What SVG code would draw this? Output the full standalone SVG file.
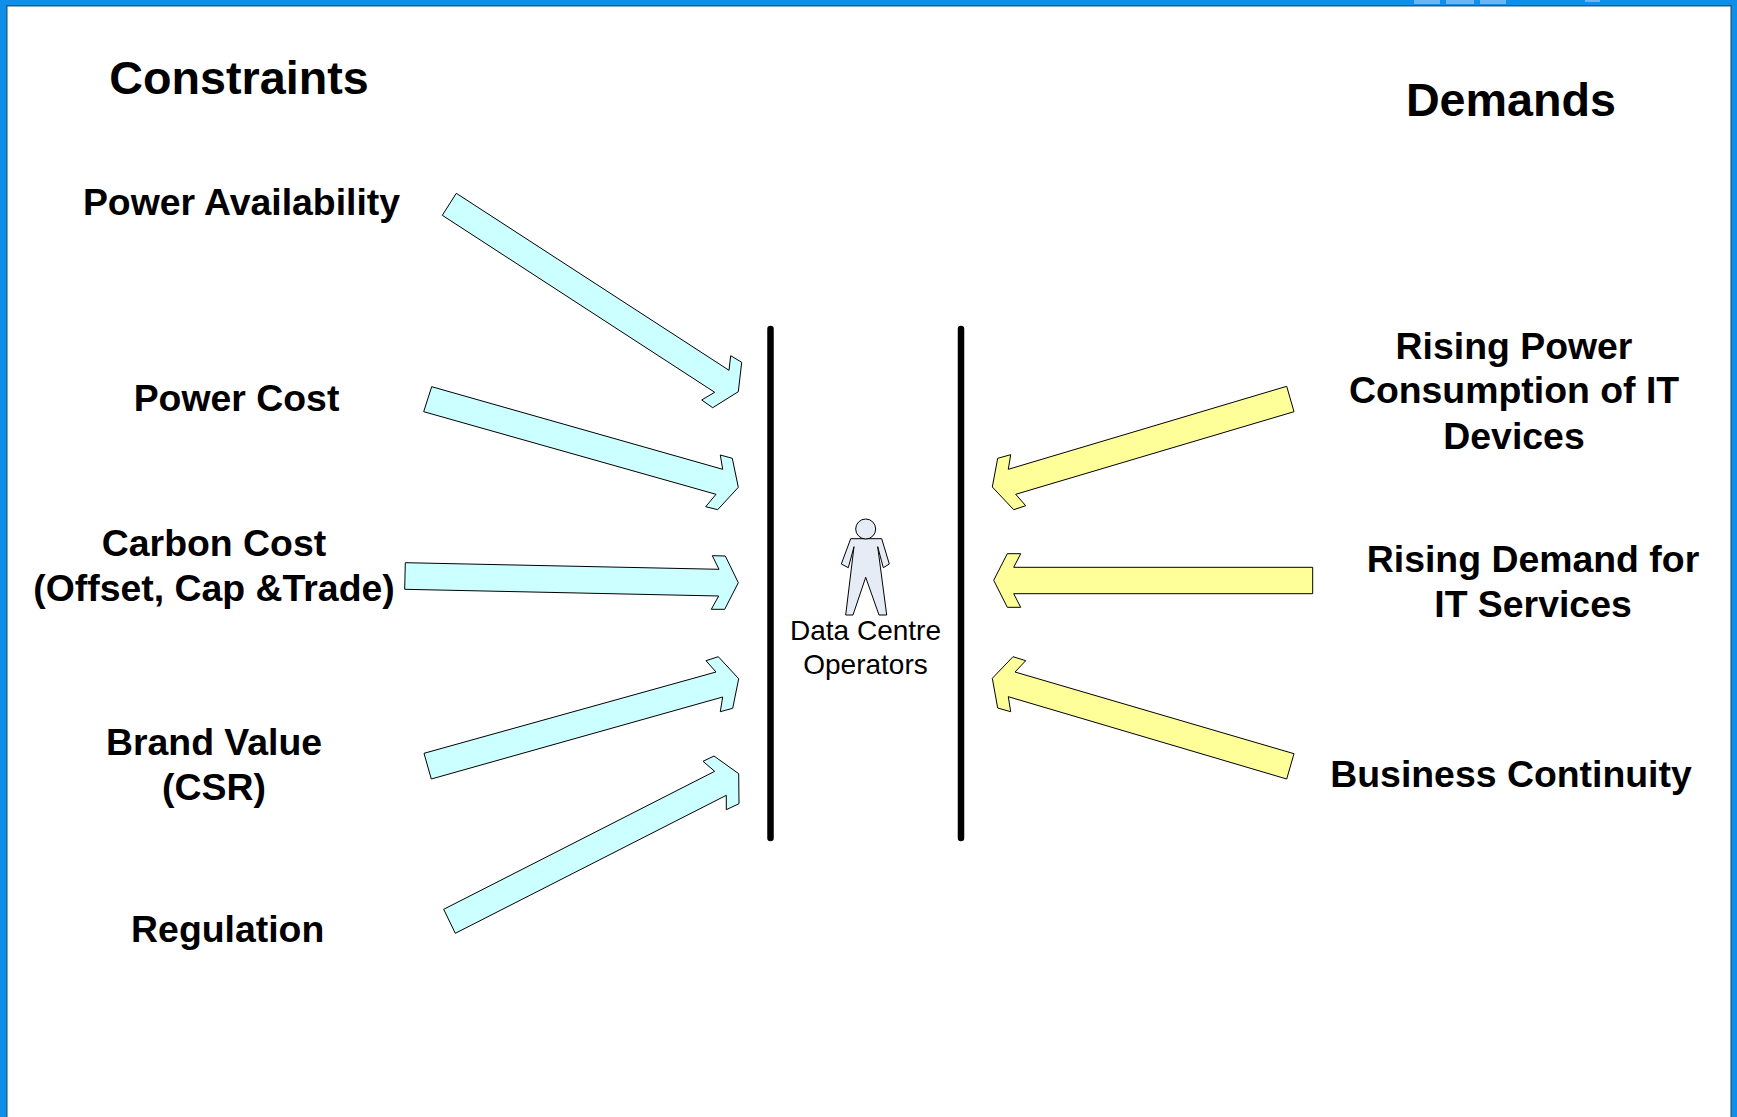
<svg xmlns="http://www.w3.org/2000/svg" width="1737" height="1117" viewBox="0 0 1737 1117">
<style>
text{font-family:"Liberation Sans",Arial,sans-serif;fill:#000;text-anchor:middle}
.h{font-size:46.7px;font-weight:700}
.l{font-size:37.4px;font-weight:700}
.s{font-size:28px}
.c{fill:#CCFFFF;stroke:#000;stroke-width:1;stroke-linejoin:miter}
.y{fill:#FFFF99;stroke:#000;stroke-width:1;stroke-linejoin:miter}
.b{stroke:#000;stroke-width:6.5;stroke-linecap:round;fill:none}
.p{fill:#E6ECF6;stroke:#000;stroke-width:1}
.f{fill:#0F8FE8}
.e{stroke:#1A5F8F;stroke-width:1.5;fill:none}
.t{fill:#6DB6F2}
</style>
<rect width="1737" height="1117" fill="#fff"/>
<g id="frame">
<rect class="f" x="0" y="0" width="1737" height="5"/>
<rect class="f" x="0" y="0" width="6" height="1117"/>
<rect class="f" x="1732" y="0" width="5" height="1117"/>
<rect class="t" x="1414" y="0" width="26" height="4"/>
<rect class="t" x="1446" y="0" width="28" height="4"/>
<rect class="t" x="1480" y="0" width="26" height="4"/>
<rect class="t" x="1585" y="0" width="15" height="2"/>
<path class="e" d="M6.8 1117V5.8H1731.2V1117"/>
</g>
<g id="connectors">
<polygon class="c" points="456.3,193.3 442.3,215.3 714.7,392.3 701.7,400 712.7,407.7 738.3,391.7 741.7,362.3 730.7,355.7 729,370.3"/>
<polygon class="c" points="431.7,386.7 423.7,411.7 716,494.3 705.7,506.7 717.7,509.7 738.3,487.3 732.3,458.3 720.3,455 722.7,469.3"/>
<polygon class="c" points="405.3,562.7 404.7,589.3 718.7,596 711.3,609.3 724.7,609.3 738.3,582.7 725.3,556 712.3,555.7 719,569.3"/>
<polygon class="c" points="424,753.3 431.3,779 722.7,697 720.3,711.7 732.7,708.3 738.7,678.7 718.3,656.7 706,660.7 716,672"/>
<polygon class="c" points="443.7,909.3 455.3,933.3 726.3,795.3 726.3,809.7 739,803.7 738.7,773.7 714,756 703,761.3 714.7,771.3"/>
<polygon class="y" points="1286.7,386.3 1294,411.7 1015.7,494.3 1025.7,505.7 1013.7,509.7 992.3,487 997.7,458.3 1010.7,454.7 1008.3,469.3"/>
<polygon class="y" points="1312.7,567.3 1312.7,593.7 1013.7,593.7 1020.7,607.3 1007.3,607.3 993.7,580.3 1007.3,553.7 1020.7,553.7 1013.7,567.3"/>
<polygon class="y" points="1294,753.7 1286.7,779 1008.3,696.7 1010.7,711.7 997.7,708 992.3,678.3 1013,656.7 1025.7,660.7 1015,672"/>
</g>
<g id="barriers">
<line class="b" x1="770.5" y1="329" x2="770.5" y2="838"/>
<line class="b" x1="961" y1="329" x2="961" y2="838"/>
</g>
<g id="operators">
<path class="p" d="M850.7 538.7H881.7L889.3 564L883.3 567.7L877.7 546.7L886.7 615H879L865.7 577.3L853 615H845.7L854 546.7L848.3 567.7L841.3 564Z"/>
<circle class="p" cx="865.7" cy="529" r="10"/>
<text class="s" x="865.5" y="640">Data Centre</text>
<text class="s" x="865.5" y="674">Operators</text>
</g>
<g id="constraints"><text class="h" x="239" y="94">Constraints</text></g>
<g id="demands"><text class="h" x="1511" y="116">Demands</text></g>
<g id="power-availability"><text class="l" x="241.5" y="215">Power Availability</text></g>
<g id="power-cost"><text class="l" x="236.5" y="411">Power Cost</text></g>
<g id="carbon-cost"><text class="l" x="214" y="556">Carbon Cost</text><text class="l" x="214" y="601">(Offset, Cap &amp;Trade)</text></g>
<g id="brand-value"><text class="l" x="214" y="755">Brand Value</text><text class="l" x="214" y="800">(CSR)</text></g>
<g id="regulation"><text class="l" x="227.7" y="942">Regulation</text></g>
<g id="rising-power"><text class="l" x="1514" y="359">Rising Power</text><text class="l" x="1514" y="403">Consumption of IT</text><text class="l" x="1514" y="449">Devices</text></g>
<g id="rising-demand"><text class="l" x="1533" y="572">Rising Demand for</text><text class="l" x="1533" y="617">IT Services</text></g>
<g id="business-continuity"><text class="l" x="1511" y="787">Business Continuity</text></g>
</svg>
